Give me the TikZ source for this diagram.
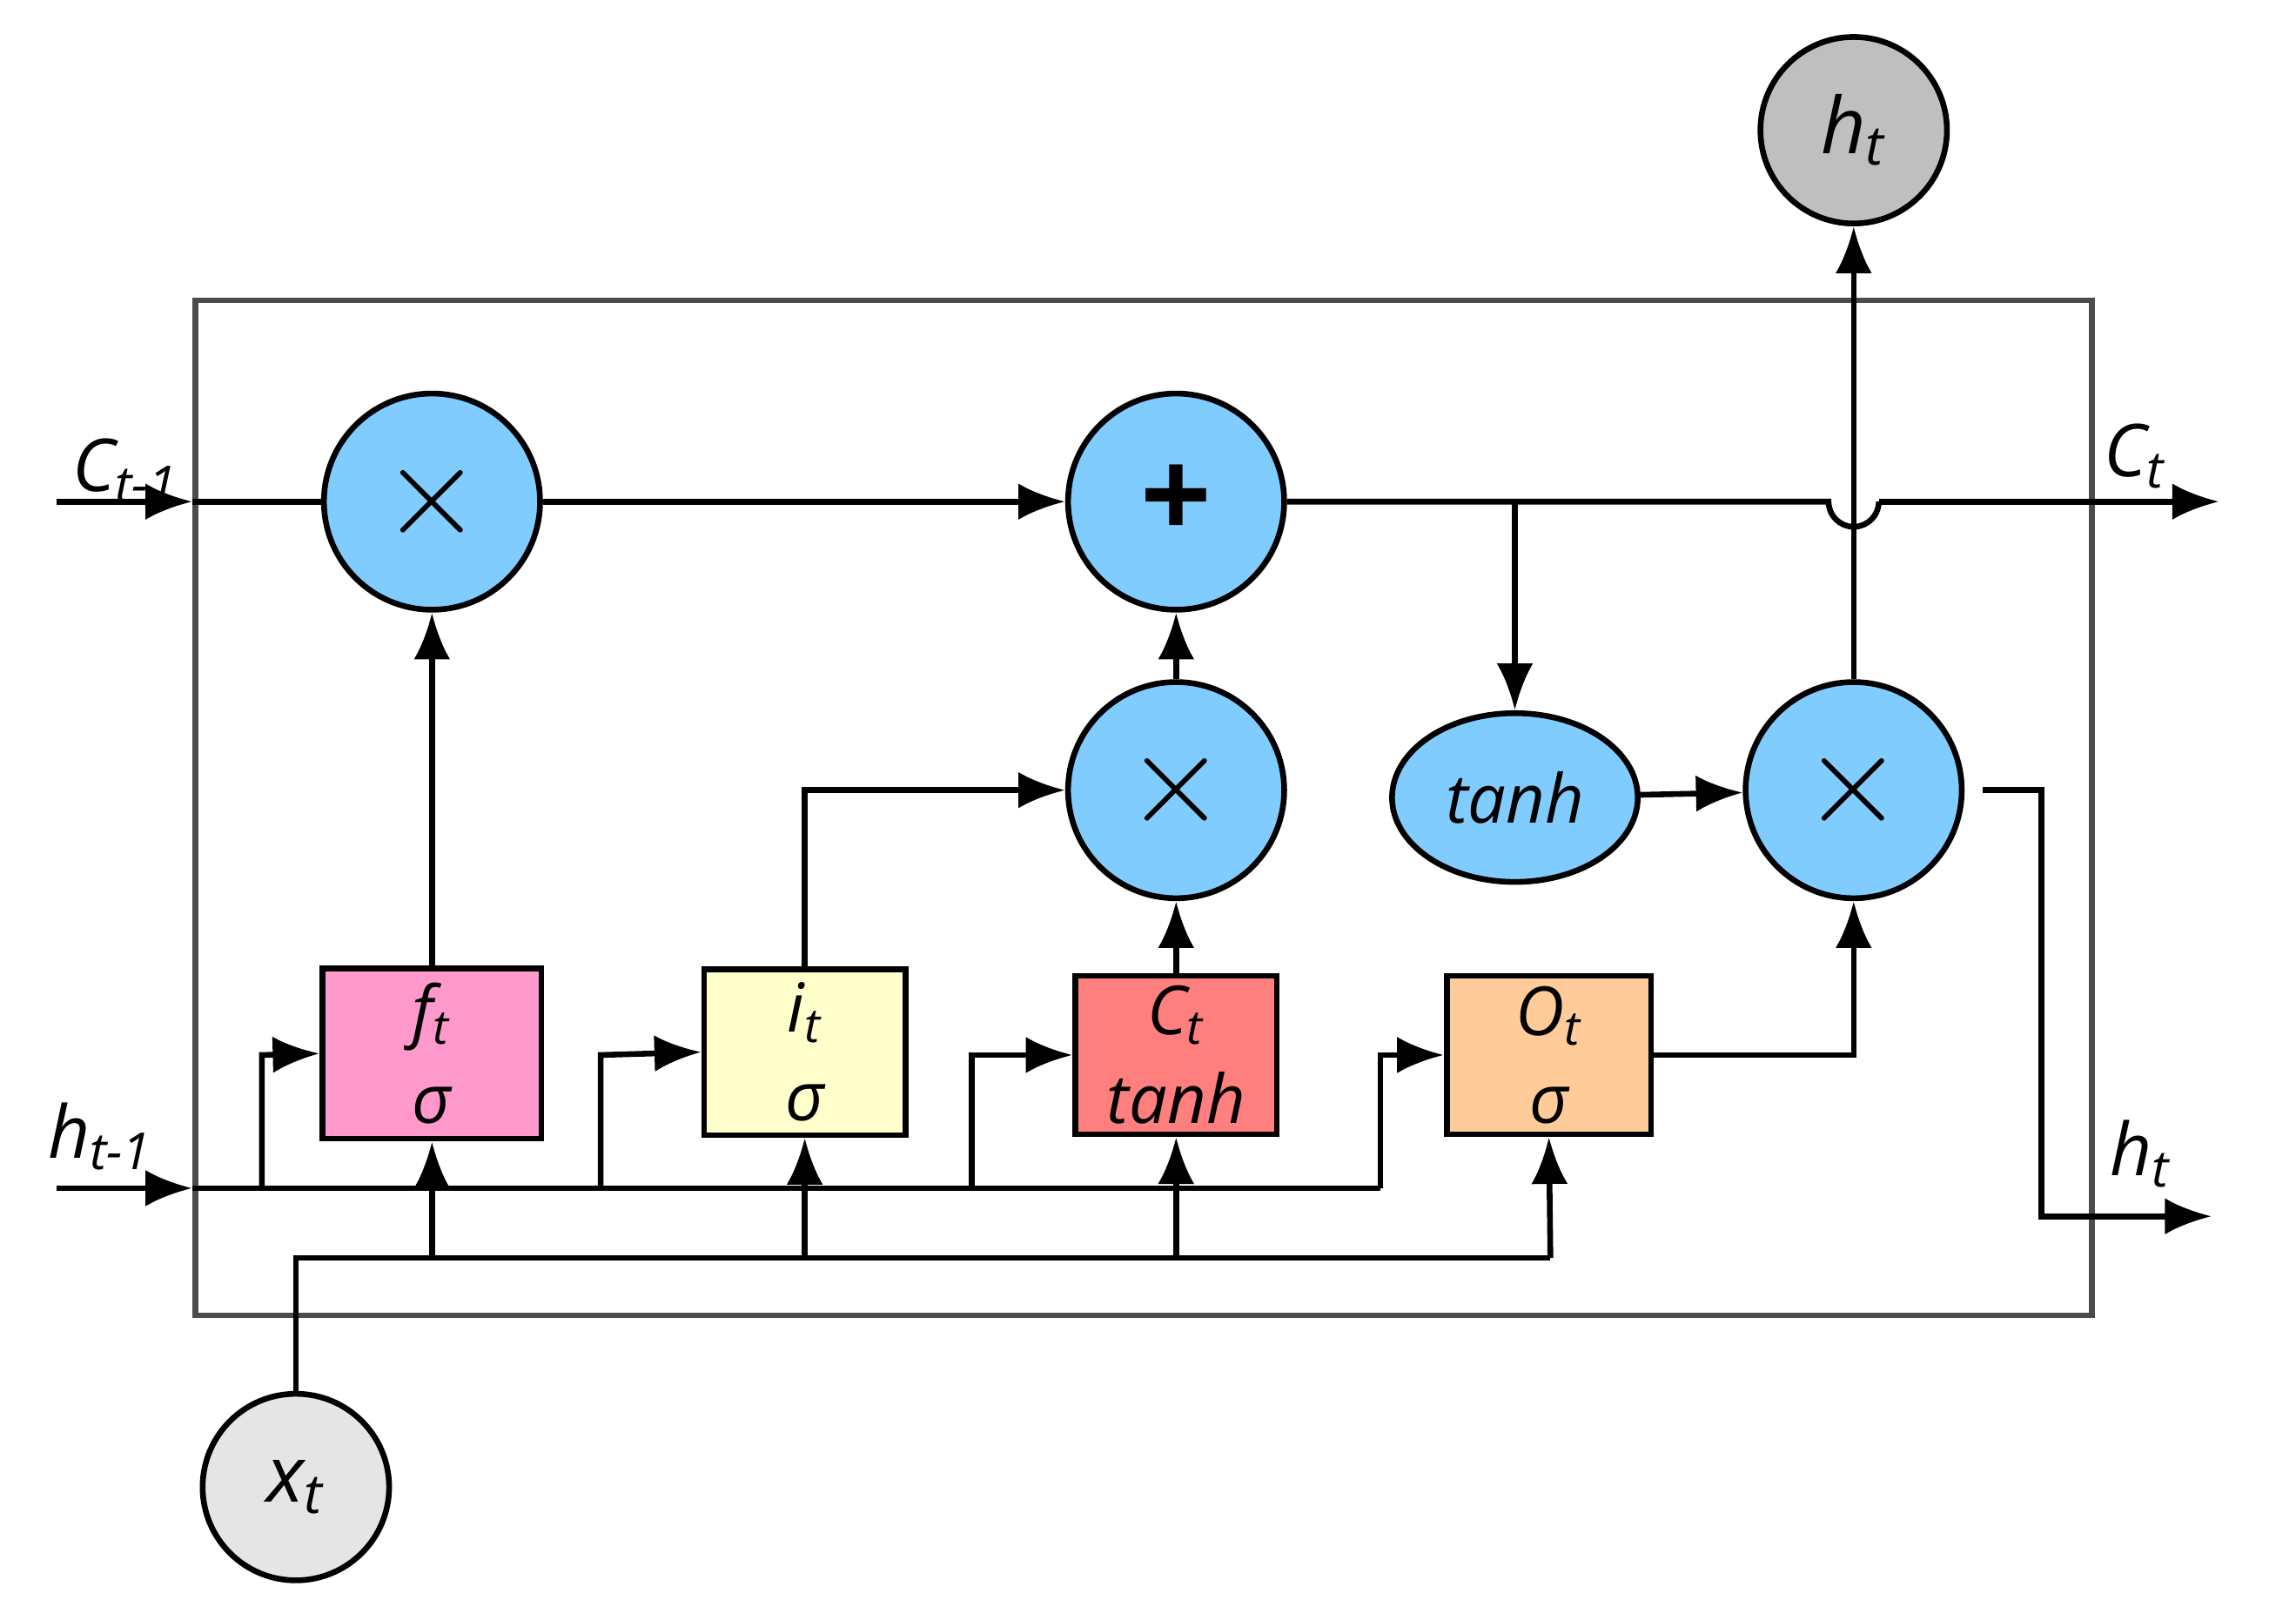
\documentclass[tikz,border=0pt]{standalone}
\usepackage{fontspec}
\setmainfont{Open Sans}
\usetikzlibrary{arrows.meta,shapes.geometric}
\definecolor{cb}{HTML}{80CCFF}
\definecolor{fpink}{HTML}{FF99CC}
\definecolor{iyel}{HTML}{FFFFCC}
\definecolor{cred}{HTML}{FF7F7F}
\definecolor{oorg}{HTML}{FFCC99}
\begin{document}
\begin{tikzpicture}[x=0.01cm,y=-0.01cm,
  line width=1.1pt,
  every node/.style={font=\fontsize{13}{15}\selectfont\itshape},
  op/.style={circle,draw,fill=cb,minimum size=1.46cm,inner sep=0pt,font=\fontsize{24}{26}\selectfont},
  gate/.style={draw,minimum width=1.4cm,minimum height=1.1cm,align=center,inner sep=1pt,font=\fontsize{13}{17}\selectfont\itshape},
  io/.style={circle,draw,minimum size=1.26cm,inner sep=0pt,font=\fontsize{15}{17}\selectfont\itshape},
  arr/.style={-{Latex[length=9pt,width=7pt]}},
  lab/.style={font=\fontsize{14}{16}\selectfont\itshape}]
\useasboundingbox (0,0) rectangle (1552,1081);
\draw[draw=black!70] (132,203) rectangle (1414,889);
\node[io,fill=black!25] (ht) at (1253,88) {h\textsubscript{t}};
\node[io,fill=black!10] (xt) at (200,1005) {x\textsubscript{t}};
\node[op] (fm) at (292,339) {$\times$};
\node[op] (pl) at (795,339) {\textbf{+}};
\node[op] (im) at (795,534) {$\times$};
\node[ellipse,draw,fill=cb,minimum width=1.66cm,minimum height=1.14cm] (th) at (1024,539) {tanh};
\node[op] (om) at (1253,534) {$\times$};
\node[gate,fill=fpink,minimum width=1.48cm,minimum height=1.15cm] (fg) at (292,712) {f\textsubscript{t}\\σ};
\node[gate,fill=iyel,minimum width=1.36cm,minimum height=1.12cm] (ig) at (544,711) {i\textsubscript{t}\\σ};
\node[gate,fill=cred,minimum width=1.36cm,minimum height=1.07cm] (cg) at (795,713) {C\textsubscript{t}\\tanh};
\node[gate,fill=oorg,minimum width=1.38cm,minimum height=1.07cm] (og) at (1047,713) {O\textsubscript{t}\\σ};
% C_{t-1}
\coordinate (cin) at (38,339);
\coordinate (cinb) at (130,339);
\draw[arr] (cin) -- (cinb);
\draw (cinb) -- (fm);
\node[lab] at (85,318) {C\textsubscript{t-1}};
\draw[arr] (fm) -- (pl);
\coordinate (br) at (1024,339);
\coordinate (hop1) at (1236,339);
\coordinate (hop2) at (1270,339);
\coordinate (cout) at (1500,339);
\draw (pl) -- (br) -- (hop1) arc[start angle=180,end angle=0,radius=17] (hop2);
\draw[arr] (hop2) -- (cout);
\node[lab] at (1443,308) {C\textsubscript{t}};
\draw[arr] (br) -- (th);
\draw[arr] (th) -- (om);
\draw[arr] (om) -- (ht);
\coordinate (ho1) at (1380,534);
\coordinate (ho2) at (1380,822);
\coordinate (hout) at (1495,822);
\draw[arr] (om.east) ++(12,0) -- (ho1) -- (ho2) -- (hout);
\node[lab] at (1447,780) {h\textsubscript{t}};
% h_{t-1}
\coordinate (hin) at (38,803);
\coordinate (hinb) at (130,803);
\draw[arr] (hin) -- (hinb);
\node[lab] at (68,768) {h\textsubscript{t-1}};
\coordinate (hb) at (933,803);
\coordinate (hu) at (933,713);
\draw (hinb) -- (hb);
\draw[arr] (hb) -- (hu) -- (og.west);
\foreach \x/\g in {177/fg,406/ig,657/cg}{
  \draw[arr] (\x,803) -- (\x,713) -- (\g.west);
}
% x_t
\coordinate (xc) at (200,850);
\coordinate (xe) at (1048,850);
\draw (xt) -- (xc) -- (xe);
\foreach \x/\g in {292/fg,544/ig,795/cg,1048/og}{
  \draw[arr] (\x,850) -- (\g.south);
}
\draw[arr] (fg) -- (fm);
\coordinate (ic) at (544,534);
\draw[arr] (ig.north) -- (ic) -- (im);
\draw[arr] (cg) -- (im);
\draw[arr] (im) -- (pl);
\coordinate (oc) at (1253,713);
\draw[arr] (og.east) -- (oc) -- (om);
\end{tikzpicture}
\end{document}
